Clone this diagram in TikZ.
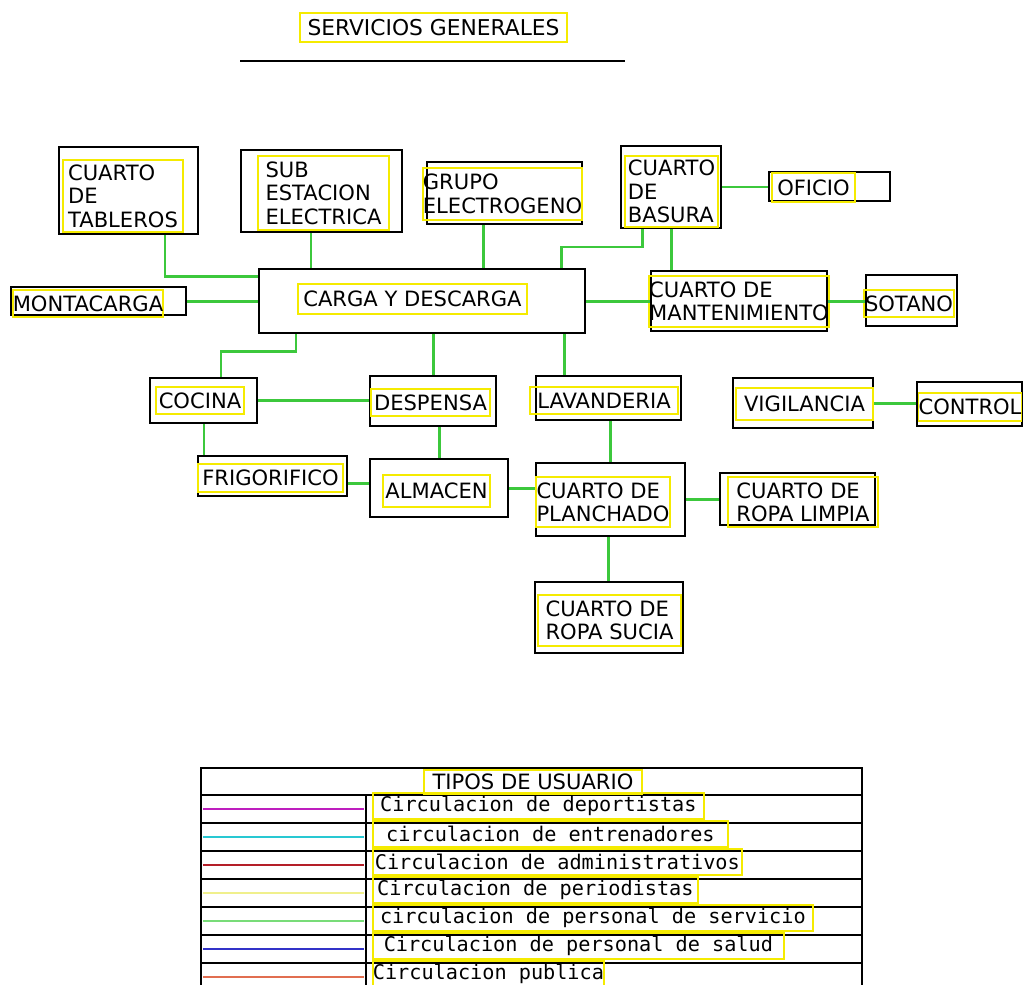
\documentclass[tikz,border=0pt]{standalone}
\usepackage{fontspec}
\setmainfont{DejaVu Sans}
\newfontfamily\legendfont{DejaVu Sans Mono}
\usepackage{tikz}
\usetikzlibrary{positioning}
\usepackage{xcolor}
\definecolor{tagyellow}{RGB}{245,235,0}
\definecolor{wiregreen}{RGB}{60,200,60}
\definecolor{legmag}{RGB}{190,30,190}
\definecolor{legcyan}{RGB}{40,200,210}
\definecolor{legred}{RGB}{180,30,40}
\definecolor{legyel}{RGB}{240,240,140}
\definecolor{leggreen}{RGB}{120,220,120}
\definecolor{legblue}{RGB}{50,50,200}
\definecolor{legorange}{RGB}{225,110,80}

\begin{document}
\begin{tikzpicture}[x=0.02cm, y=-0.02cm,
  every node/.style={font={\fontsize{12}{13.3}\selectfont}},
  room/.style 2 args={draw, line width=1.4pt, inner sep=0pt, minimum width=(#1)*0.02cm, minimum height=(#2)*0.02cm},
  tag/.style 2 args={draw=tagyellow, line width=1pt, inner sep=0pt, align=left, minimum width=(#1)*0.02cm, minimum height=(#2)*0.02cm},
  wire/.style={draw=wiregreen, line width=1.7pt}]
  \useasboundingbox (0,0) rectangle (1023,984);

  % Title
  \node[tag={267}{29}, font={\fontsize{12.4}{14}\selectfont}] (title) at (433.5,27.5) {SERVICIOS GENERALES};
  \draw[line width=1.3pt] (240,61) -- (625,61);

  % Top row
  \node[room={139}{87}] (tableros) at (128.5,190.5) {};
  \node[tag={120}{72}] (tablerostxt) at (123,196) {CUARTO\\DE\\TABLEROS};
  \node[room={161}{82}] (subest) at (321.5,191) {};
  \node[tag={131}{74}] (subesttxt) at (323.5,193) {SUB\\ESTACION\\ELECTRICA};
  \node[room={155}{62}] (grupo) at (504.5,193) {};
  \node[tag={155}{52}] (grupotxt) at (502.5,194) {GRUPO\\ELECTROGENO};
  \node[room={100}{82}] (basura) at (671,187) {};
  \node[tag={93}{71}] (basuratxt) at (671.5,191.5) {CUARTO\\DE\\BASURA};
  \node[room={121}{29}] (oficio) at (829.5,186.5) {};
  \node[tag={83}{29}] (oficiotxt) at (813.5,187.5) {OFICIO};

  % Loading row
  \node[room={326}{64}] (carga) at (422,301) {};
  \node[tag={229}{30}] (cargatxt) at (412.5,299) {CARGA Y DESCARGA};
  \node[room={175}{28}] (monta) at (98.5,301) {};
  \node[tag={146}{27}] (montatxt) at (88,303.5) {MONTACARGA};
  \node[room={176}{60}] (mant) at (739,301) {};
  \node[tag={180}{51}] (manttxt) at (739,301.5) {CUARTO DE\\MANTENIMIENTO};
  \node[room={91}{51}] (sotano) at (911.5,300.5) {};
  \node[tag={90}{27}] (sotanotxt) at (909,303.5) {SOTANO};

  % Middle row
  \node[room={107}{45}] (cocina) at (203.5,400.5) {};
  \node[tag={88}{27}] (cocinatxt) at (200,400.5) {COCINA};
  \node[room={126}{50}] (despensa) at (433,401) {};
  \node[tag={119}{27}] (despensatxt) at (430.5,402.5) {DESPENSA};
  \node[room={145}{44}] (lavan) at (608.5,398) {};
  \node[tag={148}{27}] (lavantxt) at (604,400.5) {LAVANDERIA};
  \node[room={140}{50}] (vigil) at (803,403) {};
  \node[tag={137}{32}] (vigiltxt) at (804.5,404) {VIGILANCIA};
  \node[room={105}{44}] (control) at (969.5,404) {};
  \node[tag={100}{28}] (controltxt) at (970,407) {CONTROL};

  % Lower rows
  \node[room={149}{40}] (frigo) at (272.5,476) {};
  \node[tag={145}{28}] (frigotxt) at (270.5,478) {FRIGORIFICO};
  \node[room={138}{58}] (almacen) at (439,488) {};
  \node[tag={107}{32}] (almacentxt) at (436.5,491) {ALMACEN};
  \node[room={149}{73}] (planch) at (610.5,499.5) {};
  \node[tag={134}{50}] (planchtxt) at (603,502) {CUARTO DE\\PLANCHADO};
  \node[room={155}{52}] (limpia) at (797.5,499) {};
  \node[tag={150}{50}] (limpiatxt) at (803,502) {CUARTO DE\\ROPA LIMPIA};
  \node[room={148}{71}] (sucia) at (609,617.5) {};
  \node[tag={143}{51}] (suciatxt) at (609.5,620.5) {CUARTO DE\\ROPA SUCIA};

  % Connectors
  \draw[wire] (tableros.south -| 165,0) |- (carga.west |- 0,276);
  \draw[wire] (subest.south -| 311,0) -- (carga.north -| 311,0);
  \draw[wire] (grupo.south -| 483,0) -- (carga.north -| 483,0);
  \draw[wire] (basura.south -| 642,0) -- (642,247) -| (carga.north -| 561,0);
  \draw[wire] (basura.south -| 671,0) -- (mant.north -| 671,0);
  \draw[wire] (basura.east) -- (oficio.west |- basura.east);
  \draw[wire] (monta.east) -- (carga.west);
  \draw[wire] (carga.east) -- (mant.west);
  \draw[wire] (mant.east) -- (sotano.west |- mant.east);

  \draw[wire] (carga.south -| 296,0) -- (296,351) -| (cocina.north -| 221,0);
  \draw[wire] (carga.south -| 433,0) -- (despensa.north);
  \draw[wire] (carga.south -| 564,0) -- (lavan.north -| 564,0);
  \draw[wire] (cocina.east) -- (despensa.west |- cocina.east);
  \draw[wire] (cocina.south -| 204,0) -- (frigo.north -| 204,0);
  \draw[wire] (despensa.south -| 439,0) -- (almacen.north);
  \draw[wire] (frigo.east |- 0,483) -- (almacen.west |- 0,483);
  \draw[wire] (almacen.east) -- (planch.west |- almacen.east);
  \draw[wire] (lavan.south -| 610,0) -- (planch.north -| 610,0);
  \draw[wire] (planch.south -| 608,0) -- (sucia.north -| 608,0);
  \draw[wire] (planch.east) -- (limpia.west |- planch.east);
  \draw[wire] (vigil.east) -- (control.west |- vigil.east);

  % Legend
  \draw[line width=1.2pt] (201,768) rectangle (862,1010);
  \foreach \y in {795,823,...,963}
    \draw[line width=1.2pt] (201,\y) -- (862,\y);
  \draw[line width=1.2pt] (366,795) -- (366,1010);
  \node[tag={218}{24}] (header) at (533,782) {TIPOS DE USUARIO};
  \foreach \i/\col/\txt/\xr in {1/legmag/Circulacion de deportistas/703,
      2/legcyan/circulacion de entrenadores/727,
      3/legred/Circulacion de administrativos/741,
      4/legyel/Circulacion de periodistas/697,
      5/leggreen/circulacion de personal de servicio/812,
      6/legblue/Circulacion de personal de salud/783,
      7/legorange/Circulacion publica/601} {
    \draw[\col, line width=1.4pt] (203,{781+28*\i}) -- (364,{781+28*\i});
    \node[tag={\xr-372}{26}, anchor=west, font={\legendfont\fontsize{11.5}{13}\selectfont}] (row\i) at (372,{778+28*\i}) {\txt};
  }
\end{tikzpicture}
\end{document}
